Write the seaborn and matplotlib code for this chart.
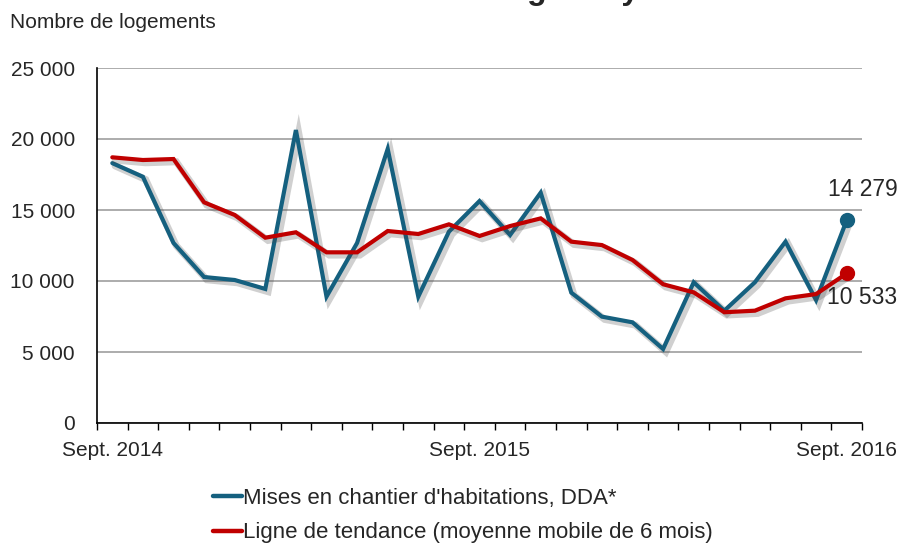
import matplotlib
matplotlib.use("Agg")
import matplotlib.pyplot as plt
import matplotlib.patheffects as pe
import seaborn as sns
import pandas as pd
import numpy as np

months = list(range(25))
tick_labels = {0: "Sept. 2014", 12: "Sept. 2015", 24: "Sept. 2016"}
mises = [18300, 17340, 12680, 10280, 10070, 9440, 20630, 8900, 12680, 19300,
         8900, 13470, 15630, 13240, 16220, 9180, 7490, 7090, 5210, 9910,
         7910, 9910, 12770, 8660, 14279]
tendance = [18710, 18520, 18590, 15540, 14650, 13050, 13430, 12020, 12020, 13520,
            13310, 13990, 13170, 13870, 14410, 12770, 12530, 11480, 9770, 9200,
            7800, 7910, 8780, 9080, 10533]
name_blue = "Mises en chantier d'habitations, DDA*"
name_red = "Ligne de tendance (moyenne mobile de 6 mois)"
title = "Saguenay"

sns.set_theme(style="white")
plt.rcParams['font.family'] = ['Liberation Sans', 'DejaVu Sans']

blue = "#15607F"
red = "#C00000"
fs = 15

df = pd.DataFrame({"mois": months * 2,
                   "valeur": mises + tendance,
                   "serie": [name_blue] * 25 + [name_red] * 25})

fig = plt.figure(figsize=(9.07, 5.45), dpi=100)
ax = fig.add_axes([97/907, 1-423/545, (862-97)/907, (423-68)/545])

shadow = [pe.SimpleLineShadow(offset=(2.0, -2.0), shadow_color="#444444", alpha=0.25, linewidth=5), pe.Normal()]
sns.lineplot(data=df, x="mois", y="valeur", hue="serie",
             palette={name_blue: blue, name_red: red}, linewidth=3.0, ax=ax, legend=False,
             zorder=3)
for ln in ax.lines:
    ln.set_path_effects(shadow)
    ln.set_solid_joinstyle("miter")

ax.scatter([months[-1]], [mises[-1]], s=100, color=blue, zorder=5)
ax.scatter([months[-1]], [tendance[-1]], s=100, color=red, zorder=5)

fmt = lambda v: f"{int(v):,}".replace(",", " ")
ax.annotate(fmt(mises[-1]), (months[-1], mises[-1]), xytext=(12, 14), textcoords="offset points",
            ha="center", va="bottom", fontsize=16.5)
ax.annotate(fmt(tendance[-1]), (months[-1], tendance[-1]), xytext=(-14, -9), textcoords="offset points",
            ha="left", va="top", fontsize=16.5)

ax.set_xlim(-0.5, 24.5)
ax.set_ylim(0, 25000)
yt = [0, 5000, 10000, 15000, 20000, 25000]
ax.set_yticks(yt)
ax.set_yticklabels([fmt(v) for v in yt], fontsize=fs)
ax.set_xticks(list(tick_labels.keys()))
ax.set_xticklabels(list(tick_labels.values()), fontsize=fs)
ax.set_xticks(np.arange(-0.5, 25, 1), minor=True)
ax.tick_params(axis="x", which="major", length=0, pad=13)
ax.tick_params(axis="x", which="minor", length=5, width=1, color="black", direction="out", bottom=True)
ax.tick_params(axis="y", length=0, pad=16)
ax.grid(axis="y", color="#a6a6a6", linewidth=1.3)
ax.set_axisbelow(True)
for s in ["top", "right"]:
    ax.spines[s].set_visible(False)
for s in ["left", "bottom"]:
    ax.spines[s].set_color("black")
    ax.spines[s].set_linewidth(1.2)
ax.set_xlabel("")
ax.set_ylabel("")

fig.text(10/907, 1-23/545, "Nombre de logements", fontsize=fs, va="center", ha="left")
fig.text(488/907, 1+1/545, title, fontsize=23, fontweight="bold", va="baseline", ha="left")

from matplotlib.lines import Line2D
handles = [Line2D([], [], color=blue, lw=3.2), Line2D([], [], color=red, lw=3.2)]
fig.legend(handles, [name_blue, name_red], loc="upper left", bbox_to_anchor=(213/907, 1-488/545),
           frameon=False, fontsize=fs + 1, handlelength=1.3, handletextpad=0.05, labelspacing=0.6,
           borderpad=0, borderaxespad=0)

fig.savefig("out.png", dpi=100)
